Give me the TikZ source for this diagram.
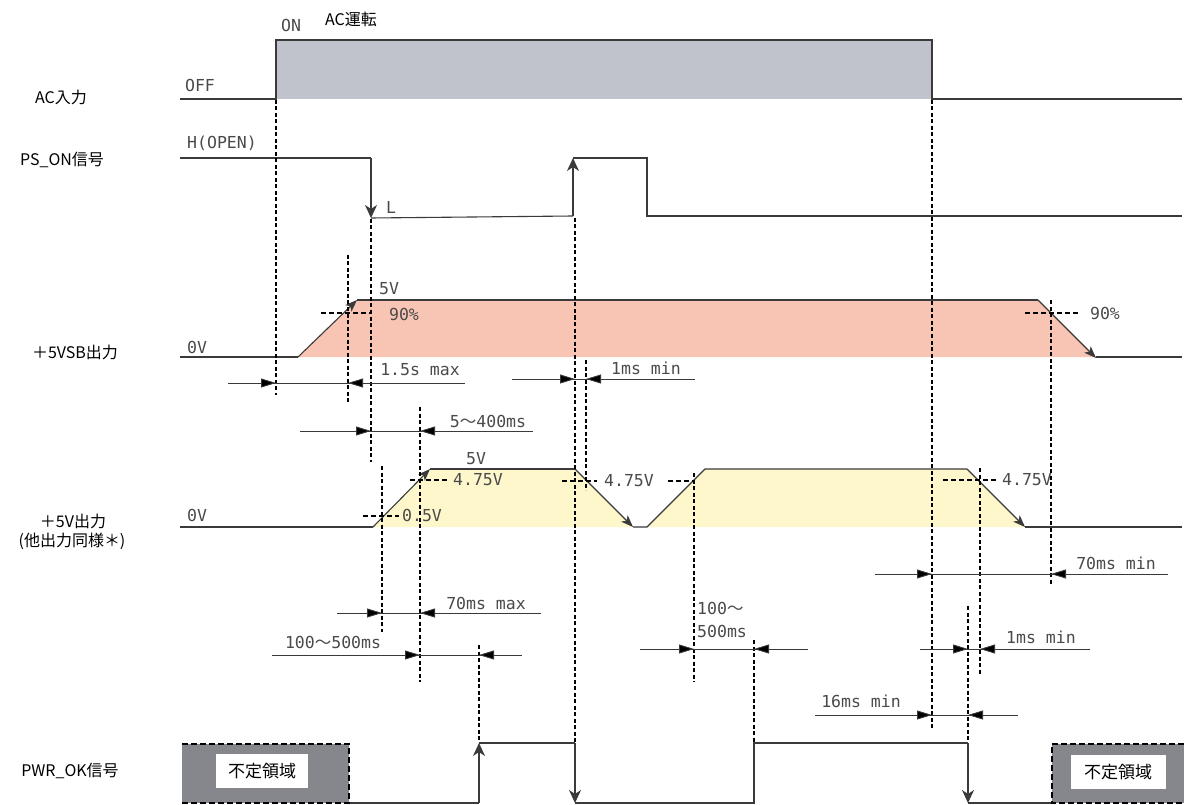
\documentclass[tikz,border=0pt]{standalone}
\usepackage{fontspec}
\setmainfont{Noto Sans CJK JP}
\newfontfamily\cjkf{Noto Sans CJK JP}
\newfontfamily\monof{DejaVu Sans Mono}
\usetikzlibrary{arrows.meta}
\definecolor{acgray}{HTML}{C0C3CB}
\definecolor{vsbfill}{HTML}{F8C4B3}
\definecolor{vfill}{HTML}{FDF7CB}
\definecolor{boxgray}{HTML}{85878C}
\definecolor{linecol}{HTML}{3A3A3A}
\definecolor{textgray}{HTML}{4A4A4A}
\begin{document}
\begin{tikzpicture}[x=1pt,y=-1pt,
  sig/.style={draw=linecol, line width=1.1pt},
  sigarrow/.style={sig, -{Stealth[length=13pt,width=12pt,inset=4pt]}},
  ramparrow/.style={sig, -{Stealth[length=12pt,width=9pt,inset=3pt]}},
  vdash/.style={draw=black, line width=1.3pt, dash pattern=on 4pt off 2.5pt},
  hdash/.style={draw=black, line width=1.1pt, dash pattern=on 5pt off 3pt},
  dimline/.style={draw=linecol, line width=0.9pt},
  dimtip/.style={draw=linecol, line width=0.9pt, -{Triangle[length=15pt,width=9pt,fill=black]}},
  boxdash/.style={draw=black, line width=2.4pt, dash pattern=on 6pt off 3pt},
  lbl/.style={font=\fontsize{16}{19}\selectfont, text=black, inner sep=0pt},
  ml/.style={font=\monof\fontsize{16.5}{19}\selectfont, text=textgray, inner sep=0pt},
  undef/.style={fill=white, inner sep=0pt, minimum height=34pt, font=\fontsize{17}{19}\selectfont}
]
\useasboundingbox (0,0) rectangle (1184,805);
\fill[white] (0,0) rectangle (1184,805);

% ---------- fills ----------
\fill[acgray] (276,40) rectangle (932,99);
\fill[vsbfill] (298,357) -- (357,300) -- (1038,300) -- (1096,357) -- cycle;
\fill[vfill] (373,527) -- (430,469) -- (575,469) -- (633,527) -- (647,527) -- (705,469) -- (967,469) -- (1025,527) -- cycle;
\fill[boxgray] (182,744) rectangle (349,803);
\fill[boxgray] (1052,744) rectangle (1184,803);

% ---------- left labels ----------
\node[lbl] (lac) at (61,97) {AC入力};
\node[lbl] (lps) at (62,160) {PS\_ON信号};
\node[lbl] (lvsb) at (75,352) {＋5VSB出力};
\node[lbl] (lv5a) at (73,521) {＋5V出力};
\node[lbl] (lv5b) at (72,541) {(他出力同様＊)};
\node[lbl] (lpw) at (70,771) {PWR\_OK信号};

% ---------- AC input ----------
\draw[sig] (180,99) -- (276,99) -- (276,40) -- (932,40) -- (932,99) -- (1182,99);
\node[ml] (ton) at (291,25) {ON};
\node[lbl] (tacr) at (351,19) {AC運転};
\node[ml] (toff) at (200,85) {OFF};

% ---------- PS_ON ----------
\node[ml] (th) at (222,143) {H(OPEN)};
\node[ml] (tl) at (391,207) {L};
\draw[sig] (180,158) -- (371,158);
\draw[sigarrow] (371,158) -- (371,218);
\draw[sig] (371,218) -- (573,216);
\draw[sigarrow] (573,216) -- (573,158);
\draw[sig] (573,158) -- (647,158) -- (647,216) -- (1182,216);

% ---------- +5VSB ----------
\node[ml] (t0va) at (197,347) {0V};
\draw[sig] (180,357) -- (298,357);
\draw[ramparrow] (298,357) -- (357,300);
\draw[sig] (357,300) -- (1038,300);
\draw[ramparrow] (1038,300) -- (1096,358);
\draw[sig] (1096,357) -- (1182,357);
\node[ml] (t5va) at (389,289) {5V};
\node[ml] (t90a) at (404,314) {90\%};
\node[ml] (t90b) at (1105,313) {90\%};
\draw[hdash] (321,313) -- (372,313);
\draw[hdash] (1025,313) -- (1080,313);

% ---------- +5V ----------
\node[ml] (t0vb) at (197,515) {0V};
\draw[sig] (180,527) -- (373,527);
\draw[ramparrow] (373,527) -- (430,469);
\draw[sig] (430,469) -- (575,469);
\draw[ramparrow] (575,469) -- (633,527);
\draw[sig] (633,527) -- (647,527) -- (705,469) -- (967,469);
\draw[ramparrow] (967,469) -- (1025,527);
\draw[sig] (1025,527) -- (1182,527);
\node[ml] (t5vb) at (476,459) {5V};
\node[ml] (t475a) at (478,480) {4.75V};
\node[ml] (t05) at (422,515) {0.5V};
\node[ml] (t475b) at (629,481) {4.75V};
\node[ml] (t475c) at (1027,480) {4.75V};
\draw[hdash] (410,480) -- (447,480);
\draw[hdash] (363,516) -- (399,516);
\draw[hdash] (562,481) -- (597,481);
\draw[hdash] (668,481) -- (694,481);
\draw[hdash] (943,480) -- (996,480);

% ---------- PWR_OK ----------
\draw[sig] (349,803) -- (479,803);
\draw[sigarrow] (479,803) -- (479,743);
\draw[sig] (479,743) -- (575,743);
\draw[sigarrow] (575,743) -- (575,803);
\draw[sig] (575,803) -- (754,803) -- (754,743) -- (968,743);
\draw[sigarrow] (968,743) -- (968,803);
\draw[sig] (968,803) -- (1052,803);
\draw[boxdash] (182,744) -- (349,744) -- (349,803) -- (182,803);
\draw[boxdash] (1184,744) -- (1052,744) -- (1052,803) -- (1184,803);
\node[undef, minimum width=92pt] (ua) at (262,771) {不定領域};
\node[undef, minimum width=95pt] (ub) at (1118,772) {不定領域};

% ---------- vertical dashed guides ----------
\draw[vdash] (276,100) -- (276,395);
\draw[vdash] (348,255) -- (348,403);
\draw[vdash] (371,219) -- (371,462);
\draw[vdash] (420,407) -- (420,682);
\draw[vdash] (382,466) -- (382,632);
\draw[vdash] (479,645) -- (479,742);
\draw[vdash] (575,218) -- (575,742);
\draw[vdash] (586,360) -- (586,490);
\draw[vdash] (694,473) -- (694,682);
\draw[vdash] (754,640) -- (754,742);
\draw[vdash] (932,100) -- (932,728);
\draw[vdash] (968,606) -- (968,742);
\draw[vdash] (980,468) -- (980,675);
\draw[vdash] (1051,300) -- (1051,585);

% ---------- dimension lines ----------
% 1.5s max
\draw[dimline] (228,383) -- (465,383);
\draw[dimtip] (240,383) -- (276,383);
\draw[dimtip] (390,383) -- (348,383);
\node[ml] (d15) at (420,370) {1.5s max};
% 1ms min (middle)
\draw[dimline] (512,379) -- (695,379);
\draw[dimtip] (530,379) -- (575,379);
\draw[dimtip] (630,379) -- (586,379);
\node[ml] (d1a) at (646,368) {1ms min};
% 5~400ms
\draw[dimline] (300,431) -- (533,431);
\draw[dimtip] (330,431) -- (371,431);
\draw[dimtip] (460,431) -- (420,431);
\node[ml] (d5400) at (488,421) {5{\cjkf ～}400ms};
% 70ms max
\draw[dimline] (337,613) -- (541,613);
\draw[dimtip] (345,613) -- (382,613);
\draw[dimtip] (460,613) -- (420,613);
\node[ml] (d70a) at (486,603) {70ms max};
% 100~500ms left
\draw[dimline] (272,655) -- (522,655);
\draw[dimtip] (380,655) -- (420,655);
\draw[dimtip] (515,655) -- (479,655);
\node[ml] (d100a) at (333,642) {100{\cjkf ～}500ms};
% 100~500ms middle
\draw[dimline] (640,649) -- (808,649);
\draw[dimtip] (655,649) -- (694,649);
\draw[dimtip] (795,649) -- (754,649);
\node[ml, anchor=west] (d100b) at (697,608) {100{\cjkf ～}};
\node[ml, anchor=west] (d100c) at (697,631) {500ms};
% 70ms min
\draw[dimline] (875,574) -- (1168,574);
\draw[dimtip] (890,574) -- (932,574);
\draw[dimtip] (1090,574) -- (1051,574);
\node[ml] (d70b) at (1116,563) {70ms min};
% 1ms min right
\draw[dimline] (920,649) -- (1090,649);
\draw[dimtip] (930,649) -- (968,649);
\draw[dimtip] (1020,649) -- (980,649);
\node[ml] (d1b) at (1041,637) {1ms min};
% 16ms min
\draw[dimline] (815,715) -- (1018,715);
\draw[dimtip] (815,715) -- (932,715);
\draw[dimtip] (1010,715) -- (968,715);
\node[ml] (d16) at (861,701) {16ms min};
\end{tikzpicture}
\end{document}
